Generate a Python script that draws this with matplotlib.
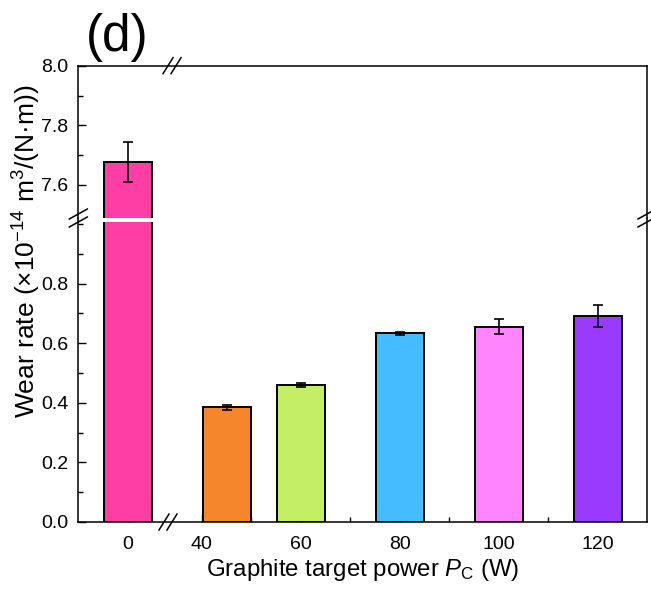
import matplotlib
matplotlib.use('Agg')
import matplotlib.pyplot as plt
import matplotlib.transforms as mtransforms
from matplotlib.lines import Line2D
from matplotlib.patches import Rectangle
from matplotlib.ticker import MultipleLocator, FormatStrFormatter, FixedLocator

# data
power = [0, 40, 60, 80, 100, 120]
wear = [7.676, 0.385, 0.459, 0.633, 0.655, 0.691]
err = [0.067, 0.008, 0.006, 0.005, 0.025, 0.038]
colors = ['#FF3EA5', '#F5862B', '#C3EE66', '#45BCFF', '#FF85FF', '#9A3AFF']
tick_labels = ['0', '40', '60', '80', '100', '120']

plt.rcParams['font.family'] = ['Liberation Sans', 'DejaVu Sans']
plt.rcParams['mathtext.fontset'] = 'custom'
plt.rcParams['mathtext.rm'] = 'Liberation Sans'
plt.rcParams['mathtext.it'] = 'Liberation Sans:italic'

W, H = 651, 593
fig = plt.figure(figsize=(W / 100, H / 100), dpi=100)

x0, x1 = 78.3 / W, 647 / W
y_bot, y_brk, y_top = 1 - 522 / H, 1 - 218 / H, 1 - 65.7 / H
ax_lo = fig.add_axes([x0, y_bot, x1 - x0, y_brk - y_bot])
ax_hi = fig.add_axes([x0, y_brk, x1 - x0, y_top - y_brk])

# x positions: 0 W sits in its own segment left of the axis break
xpos = [25 if p == 0 else (45 if p == 40 else p) for p in power]
tickpos = [25, 40, 60, 80, 100, 120]
width = 9.7
lw = 1.4

for ax in (ax_lo, ax_hi):
    ax.bar(xpos, wear, width=width, color=colors, edgecolor='black', linewidth=lw, zorder=2)
    ax.errorbar(xpos, wear, yerr=err, fmt='none', ecolor='black', elinewidth=1.2,
                capsize=3.8, capthick=1.2, zorder=3)
    ax.set_xlim(15, 130)
    for s in ax.spines.values():
        s.set_linewidth(1.1)
    ax.yaxis.set_major_formatter(FormatStrFormatter('%.1f'))
    ax.tick_params(axis='both', which='both', direction='in', width=1.0, labelsize=14,
                   top=False, right=False)
    ax.tick_params(which='major', length=5.5)
    ax.tick_params(which='minor', length=3.5)
    ax.tick_params(axis='y', pad=7)

ax_lo.set_ylim(0, 1.02)
ax_lo.yaxis.set_minor_locator(MultipleLocator(0.1))
ax_lo.set_yticks([0, 0.2, 0.4, 0.6, 0.8])
ax_lo.xaxis.set_major_locator(FixedLocator(tickpos))
ax_lo.set_xticklabels(tick_labels)
ax_lo.xaxis.set_minor_locator(FixedLocator([50, 70, 90, 110]))
ax_lo.spines['top'].set_visible(False)
ax_lo.tick_params(axis='x', pad=10)

ax_hi.set_ylim(7.489, 8.0)
ax_hi.set_yticks([7.6, 7.8, 8.0])
ax_hi.yaxis.set_minor_locator(FixedLocator([7.7, 7.9]))
ax_hi.spines['bottom'].set_visible(False)
ax_hi.tick_params(axis='x', which='both', bottom=False, labelbottom=False)

# white gap through the tall bar at the y break
blend = mtransforms.blended_transform_factory(ax_lo.transData, fig.transFigure)
ax_lo.add_patch(Rectangle((xpos[0] - width / 2 - 1, 1 - 222 / H), width + 2, 7 / H,
                          transform=blend, facecolor='white', edgecolor='none',
                          clip_on=False, zorder=6))


def brk(px, py, horiz=False):
    # two short slanted strokes centred on a spine, in pixel units
    for d in (-4, 4):
        if horiz:
            xs = [px + d - 5, px + d + 5]
            ys = [py + 8, py - 8]
        else:
            xs = [px - 9, px + 9]
            ys = [py + d + 5, py + d - 5]
        fig.add_artist(Line2D([x / W for x in xs], [1 - y / H for y in ys],
                              transform=fig.transFigure, color='black', lw=1.1, zorder=10))


brk(78.3, 218)
brk(647, 218)
brk(168, 522, horiz=True)
brk(172, 65.7, horiz=True)

fig.text(27 / W, 1 - 251 / H, r'Wear rate (×10$^{-14}$ m$^{3}$/(N·m))', rotation=90,
         ha='center', va='center', fontsize=19)
fig.text(362.6 / W, 1 - 570 / H, r'Graphite target power $P_{\mathrm{C}}$ (W)',
         ha='center', va='center', fontsize=17.3)
fig.text(117 / W, 1 - 37 / H, '(d)', ha='center', va='center', fontsize=37)

fig.savefig('out.png', dpi=100)
